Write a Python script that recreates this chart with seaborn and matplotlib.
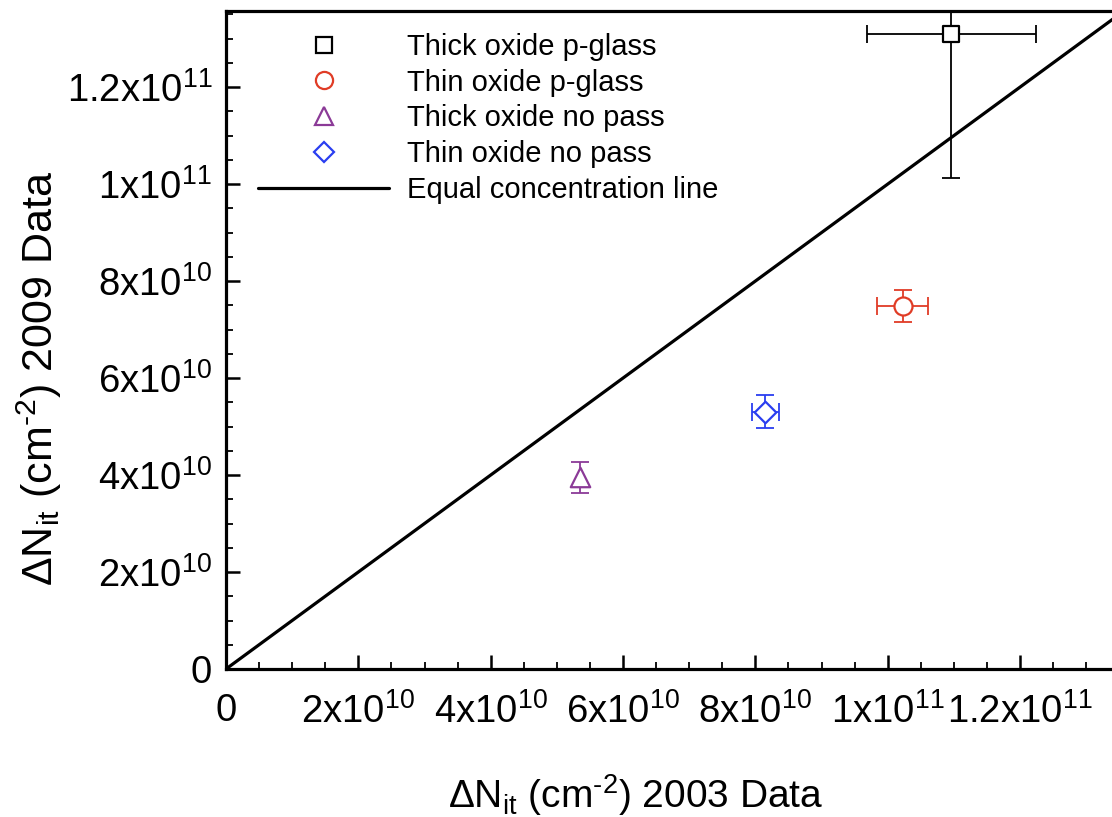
import numpy as np
import pandas as pd
import matplotlib
matplotlib.use("Agg")
import matplotlib.pyplot as plt
import seaborn as sns
from matplotlib.ticker import FixedLocator, FixedFormatter, MultipleLocator
from matplotlib.lines import Line2D

# ---- data ----
series = ["Thick oxide p-glass", "Thin oxide p-glass", "Thick oxide no pass", "Thin oxide no pass"]
x2003 = [10.96e10, 10.23e10, 5.35e10, 8.15e10]
y2009 = [13.09e10, 7.48e10, 3.95e10, 5.31e10]
xerr = [1.28e10, 0.385e10, 0.0, 0.20e10]
yerr = [2.97e10, 0.33e10, 0.32e10, 0.34e10]
colors = ["#000000", "#e03c26", "#8b3a97", "#2a3ef0"]
markers = ["s", "o", "^", "D"]
msizes = [12, 13, 14, 11]

line_label = "Equal concentration line"
line_x = [0.0, 1.5e11]

tick_vals = [0, 2e10, 4e10, 6e10, 8e10, 1e11, 1.2e11]
tick_labels = ["0", "2x10$^{10}$", "4x10$^{10}$", "6x10$^{10}$", "8x10$^{10}$",
               "1x10$^{11}$", "1.2x10$^{11}$"]
xlabel = "$\\Delta$N$_{\\mathrm{it}}$ (cm$^{\u20102}$) 2003 Data"
ylabel = "$\\Delta$N$_{\\mathrm{it}}$ (cm$^{\u20102}$) 2009 Data"

# ---- style ----
sns.set_theme(style="white")
plt.rcParams["font.family"] = ["Liberation Sans", "DejaVu Sans"]
plt.rcParams["mathtext.fontset"] = "custom"
plt.rcParams["mathtext.rm"] = "Liberation Sans"
plt.rcParams["mathtext.it"] = "Liberation Sans:italic"
plt.rcParams["mathtext.bf"] = "Liberation Sans:bold"
plt.rcParams["text.color"] = "black"
plt.rcParams["axes.labelcolor"] = "black"
plt.rcParams["xtick.color"] = "black"
plt.rcParams["ytick.color"] = "black"

fig = plt.figure(figsize=(11.12, 8.17), dpi=100)
ax = fig.add_axes([226 / 1112, 1 - 669 / 817, (1112 - 226) / 1112, (669 - 11) / 817])

# diagonal line
df_line = pd.DataFrame({"x": line_x, "y": line_x})
sns.lineplot(data=df_line, x="x", y="y", color="black", linewidth=2.3, ax=ax, zorder=2)

# error bars
for i in range(len(series)):
    kw = dict(fmt="none", ecolor=colors[i], elinewidth=1.3, capsize=6.5, capthick=1.3, zorder=3)
    if xerr[i] > 0:
        kw["xerr"] = xerr[i]
    ax.errorbar(x2003[i], y2009[i], yerr=yerr[i], **kw)

# markers
handles = []
for i in range(len(series)):
    d = pd.DataFrame({"x": [x2003[i]], "y": [y2009[i]]})
    sns.scatterplot(data=d, x="x", y="y", marker=markers[i], s=msizes[i] ** 2,
                    facecolor="white", edgecolor=colors[i], linewidth=1.6,
                    ax=ax, zorder=4)
    handles.append(Line2D([], [], linestyle="none", marker=markers[i], markersize=msizes[i] * 0.95,
                          markerfacecolor="white", markeredgecolor=colors[i],
                          markeredgewidth=1.6, label=series[i]))
handles.append(Line2D([], [], color="black", linewidth=2.3, label=line_label))

ax.set_xlim(0, 13.39e10)
ax.set_ylim(0, 13.57e10)

for axis in (ax.xaxis, ax.yaxis):
    axis.set_major_locator(FixedLocator(tick_vals))
    axis.set_major_formatter(FixedFormatter(tick_labels))
    axis.set_minor_locator(MultipleLocator(0.5e10))

ax.tick_params(which="both", direction="in", colors="black")
ax.tick_params(which="major", length=10, width=1.8, labelsize=27.5)
ax.tick_params(which="minor", length=5, width=1.3)
ax.tick_params(axis="x", which="major", pad=17)
ax.tick_params(axis="y", which="major", pad=10)
ax.tick_params(bottom=True, left=True, top=False, right=False, which="both")

for side in ["left", "bottom", "top"]:
    ax.spines[side].set_visible(True)
    ax.spines[side].set_linewidth(2.3)
    ax.spines[side].set_color("black")
ax.spines["right"].set_visible(False)

ax.set_xlabel(xlabel, fontsize=28)
ax.set_ylabel(ylabel, fontsize=31)
ax.xaxis.set_label_coords((636 - 226) / 886, (669 - 772) / 658)
ax.yaxis.set_label_coords((64 - 226) / 886, (669 - 378) / 658)

leg = ax.legend(handles=handles, loc="upper left", bbox_to_anchor=(0.036, 0.967),
                frameon=False, fontsize=21, handlelength=4.5, handletextpad=0.6,
                labelspacing=0.27, borderpad=0, borderaxespad=0)

fig.savefig("out.png", dpi=100)
